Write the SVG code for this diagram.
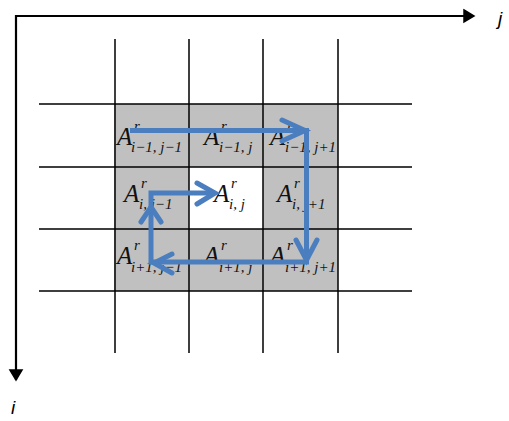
<svg xmlns="http://www.w3.org/2000/svg" width="509" height="421" viewBox="0 0 509 421">
<style>
.grid{stroke:#000;stroke-width:1.5;fill:none}
.cell{fill:#c0c0c0}
.ax{stroke:#000;stroke-width:2.2;fill:none}
.lbl{font-family:"Liberation Serif",serif;font-style:italic;fill:#111}
.A{font-size:25px}
.s{font-size:15px}
.flow{stroke:#4a7ebf;stroke-width:5;fill:none;stroke-linejoin:miter}
.head{stroke:#4a7ebf;stroke-width:5;fill:none;stroke-linecap:round;stroke-linejoin:miter}
.axl{font-family:"Liberation Sans",sans-serif;font-style:italic;font-size:19px;fill:#000}
</style>
<rect width="509" height="421" fill="#fff"/>
<g id="shading">
<rect class="cell" x="114" y="104" width="224" height="187"/>
<rect x="189" y="167" width="74" height="62" fill="#fff"/>
</g>
<g id="grid">
<path class="grid" d="M115 39V353M189 39V353M263 39V353M338 39V353M39 104H412M39 167H412M39 229H412M39 291H412"/>
</g>
<g id="axes">
<path class="ax" d="M16 380V16H472"/>
<path d="M464 10L474 16L464 22Z" fill="#000" stroke="#000" stroke-width="1.5"/>
<path d="M10 370L16 380L22 370Z" fill="#000" stroke="#000" stroke-width="1.5"/>
<text class="axl" x="498" y="25">j</text>
<text class="axl" x="11" y="414">i</text>
</g>
<g id="n-im1-jm1"><text class="lbl" x="117" y="145"><tspan class="A">A</tspan><tspan class="s" x="134" y="131">r</tspan><tspan class="s" x="131" y="152">i−1, j−1</tspan></text></g>
<g id="n-im1-j"><text class="lbl" x="204" y="145"><tspan class="A">A</tspan><tspan class="s" x="221" y="131">r</tspan><tspan class="s" x="219" y="152">i−1, j</tspan></text></g>
<g id="n-im1-jp1"><text class="lbl" x="270" y="145"><tspan class="A">A</tspan><tspan class="s" x="287" y="131">r</tspan><tspan class="s" x="285" y="152">i−1, j+1</tspan></text></g>
<g id="n-i-jm1"><text class="lbl" x="124" y="202"><tspan class="A">A</tspan><tspan class="s" x="141" y="188">r</tspan><tspan class="s" x="139" y="209">i, j−1</tspan></text></g>
<g id="n-i-j"><text class="lbl" x="214" y="202"><tspan class="A">A</tspan><tspan class="s" x="231" y="188">r</tspan><tspan class="s" x="229" y="209">i, j</tspan></text></g>
<g id="n-i-jp1"><text class="lbl" x="277" y="202"><tspan class="A">A</tspan><tspan class="s" x="294" y="188">r</tspan><tspan class="s" x="292" y="209">i, j+1</tspan></text></g>
<g id="n-ip1-jm1"><text class="lbl" x="117" y="264"><tspan class="A">A</tspan><tspan class="s" x="134" y="250">r</tspan><tspan class="s" x="131" y="272">i+1, j−1</tspan></text></g>
<g id="n-ip1-j"><text class="lbl" x="204" y="264"><tspan class="A">A</tspan><tspan class="s" x="221" y="250">r</tspan><tspan class="s" x="219" y="272">i+1, j</tspan></text></g>
<g id="n-ip1-jp1"><text class="lbl" x="270" y="264"><tspan class="A">A</tspan><tspan class="s" x="287" y="250">r</tspan><tspan class="s" x="285" y="272">i+1, j+1</tspan></text></g>
<g id="connectors">
<path class="flow" d="M130 130.5H306.5V262H151V193H214"/>
<path class="head" d="M282 120L305 130.5L282 141"/>
<path class="head" d="M296 240L306.5 260L317 240"/>
<path class="head" d="M172 254L154 263L172 273"/>
<path class="head" d="M141 222L151 207L161 222"/>
<path class="head" d="M197 183L215 193L197 204"/>
</g>
</svg>
